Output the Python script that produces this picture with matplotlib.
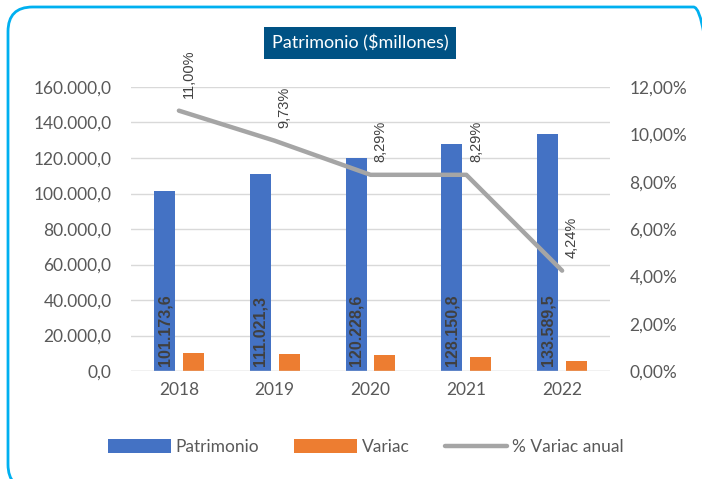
import matplotlib
matplotlib.use("Agg")
import matplotlib.pyplot as plt
from matplotlib.patches import FancyBboxPatch
import numpy as np

# datos
years = ["2018", "2019", "2020", "2021", "2022"]
patrimonio = [101173.6, 111021.3, 120228.6, 128150.8, 133589.5]
variac = [10026.0, 9847.7, 9207.3, 7922.2, 5438.7]
pct_variac = [11.00, 9.73, 8.29, 8.29, 4.24]

pat_labels = ["101.173,6", "111.021,3", "120.228,6", "128.150,8", "133.589,5"]
pct_labels = ["11,00%", "9,73%", "8,29%", "8,29%", "4,24%"]

blue = "#4472C4"
orange = "#ED7D31"
grey = "#A5A5A5"
txt = "#595959"

plt.rcParams["font.family"] = ["Lato", "DejaVu Sans"]

fig = plt.figure(figsize=(7.02, 4.79), dpi=100)
ax = fig.add_axes([131 / 702, 1 - 371 / 479, (610 - 131) / 702, (371 - 87) / 479])
ax2 = ax.twinx()

x = np.arange(len(years))
w = 0.22
ax.bar(x - 0.15, patrimonio, w, color=blue, label="Patrimonio", zorder=2)
ax.bar(x + 0.15, variac, w, color=orange, label="Variac", zorder=2)

for xi, lab in zip(x, pat_labels):
    ax.text(xi - 0.15, 3000, lab, rotation=90, ha="center", va="bottom",
            fontsize=11.5, fontweight="bold", color="#404040",
            family="Liberation Sans", zorder=3)

ax.set_xlim(-0.5, 4.5)
ax.set_ylim(0, 160000)
ax.set_yticks(np.arange(0, 160001, 20000))
ax.set_yticklabels([f"{v:,.1f}".replace(",", "X").replace(".", ",").replace("X", ".")
                    for v in np.arange(0, 160001, 20000)])
ax.set_xticks(x)
ax.set_xticklabels(years)
ax.yaxis.grid(True, color="#D9D9D9", linewidth=1, zorder=0)
ax.set_axisbelow(True)

ax2.plot(x, pct_variac, color=grey, linewidth=3.2, solid_capstyle="round",
         label="% Variac anual", zorder=4)
for xi, v, lab in zip(x, pct_variac, pct_labels):
    ax2.annotate(lab, (xi, v), xytext=(10, 13), textcoords="offset pixels",
                 rotation=90, ha="center", va="bottom", fontsize=10.5,
                 color="#404040", family="Liberation Sans", annotation_clip=False)
ax2.set_ylim(0, 12)
ax2.set_yticks(np.arange(0, 12.01, 2))
ax2.set_yticklabels([f"{v:.2f}%".replace(".", ",") for v in np.arange(0, 12.01, 2)])

for a in (ax, ax2):
    for s in a.spines.values():
        s.set_visible(False)
    a.tick_params(length=0, colors=txt, labelsize=12.5)
ax.tick_params(axis="y", pad=14)
ax.tick_params(axis="x", pad=8)
ax2.tick_params(axis="y", pad=14)
ax.axhline(0, color="#D9D9D9", linewidth=1)

# titulo
fig.text(360 / 702, 1 - 43 / 479, "Patrimonio ($millones)", ha="center", va="center",
         fontsize=13, color="white",
         bbox=dict(boxstyle="square,pad=0.4", facecolor="#005284", edgecolor="none"))

# leyenda
h1, l1 = ax.get_legend_handles_labels()
h2, l2 = ax2.get_legend_handles_labels()
fig.legend(h1 + h2, l1 + l2, loc="center", bbox_to_anchor=(366 / 702, 1 - 447 / 479),
           ncol=3, frameon=False, fontsize=12.5, labelcolor=txt,
           handlelength=3.6, handleheight=0.9, columnspacing=2.0, handletextpad=0.3)

# borde redondeado
border = FancyBboxPatch((8 / 702, -10 / 479), 710 / 702, 482 / 479,
                        boxstyle="round,pad=0,rounding_size=0.035",
                        transform=fig.transFigure, facecolor="none",
                        edgecolor="#00B0F0", linewidth=2, mutation_aspect=702 / 479)
fig.patches.append(border)

fig.savefig("out.png", dpi=100)
